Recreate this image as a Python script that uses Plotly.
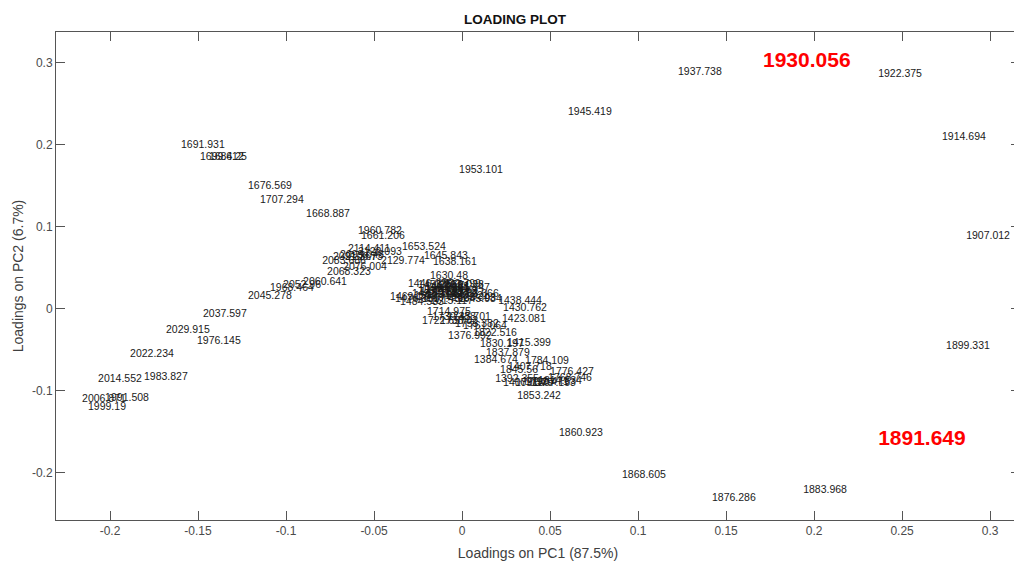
import plotly.graph_objects as go

# Wavenumbers (labels of each loading)
wavenumbers = [
    "1376.992", "1384.674", "1392.355", "1400.037", "1407.718", "1415.399", "1423.081",
    "1430.762", "1438.444", "1446.125", "1453.807", "1461.488", "1469.17", "1476.851",
    "1484.533", "1492.214", "1499.895", "1507.577", "1515.258", "1522.94", "1530.621",
    "1538.303", "1545.984", "1553.666", "1561.347", "1569.028", "1576.71", "1584.391",
    "1592.073", "1599.754", "1607.436", "1615.117", "1622.799", "1630.48", "1638.161",
    "1645.843", "1653.524", "1661.206", "1668.887", "1676.569", "1684.25", "1691.931",
    "1699.612", "1707.294", "1714.975", "1722.657", "1730.338", "1738.02", "1745.701",
    "1753.382", "1761.064", "1768.746", "1776.427", "1784.109", "1791.79", "1799.471",
    "1807.153", "1814.834", "1822.516", "1830.197", "1837.879", "1845.56", "1853.242",
    "1860.923", "1868.605", "1876.286", "1883.968", "1891.649", "1899.331", "1907.012",
    "1914.694", "1922.375", "1930.056", "1937.738", "1945.419", "1953.101", "1960.782",
    "1968.464", "1976.145", "1983.827", "1991.508", "1999.19", "2006.871", "2014.552",
    "2022.234", "2029.915", "2037.597", "2045.278", "2052.96", "2060.641", "2068.323",
    "2076.004", "2083.686", "2091.367", "2099.048", "2106.73", "2114.411", "2122.093",
    "2129.774",
]

# Loadings on PC1
pc1 = [
    -0.0080, 0.0068, 0.0188, 0.0233, 0.0261, 0.0256, 0.0227,
    0.0233, 0.0205, -0.0307, -0.0250, -0.0210, -0.0409, -0.0381,
    -0.0352, -0.0284, -0.0239, -0.0205, -0.0165, -0.0125, -0.0097,
    -0.0057, -0.0023, -0.0040, -0.0091, -0.0125, -0.0170, -0.0210,
    -0.0250, -0.0273, -0.0227, -0.0182, -0.0142, -0.0182, -0.0165,
    -0.0216, -0.0341, -0.0574, -0.0886, -0.1216, -0.1438, -0.1597,
    -0.1489, -0.1148, -0.0199, -0.0227, -0.0170, -0.0125, -0.0085,
    -0.0040, 0.0006, 0.0489, 0.0500, 0.0358, 0.0301, 0.0358,
    0.0398, 0.0432, 0.0063, 0.0102, 0.0136, 0.0216, 0.0313,
    0.0551, 0.0909, 0.1420, 0.1938, 0.2364, 0.2750, 0.2864,
    0.2727, 0.2364, 0.1710, 0.1227, 0.0602, -0.0017, -0.0591,
    -0.1091, -0.1506, -0.1807, -0.2028, -0.2125, -0.2159, -0.2068,
    -0.1886, -0.1682, -0.1472, -0.1216, -0.1017, -0.0903, -0.0767,
    -0.0676, -0.0795, -0.0733, -0.0693, -0.0665, -0.0648, -0.0591,
    -0.0460,
]

# Loadings on PC2
pc2 = [
    -0.0343, -0.0636, -0.0868, -0.0917, -0.0722, -0.0429, -0.0136,
    -0.0001, 0.0084, 0.0292, 0.0280, 0.0255, 0.0133, 0.0109,
    0.0072, 0.0170, 0.0194, 0.0170, 0.0206, 0.0182, 0.0145,
    0.0121, 0.0109, 0.0170, 0.0243, 0.0280, 0.0268, 0.0231,
    0.0206, 0.0145, 0.0109, 0.0084, 0.0292, 0.0390, 0.0561,
    0.0634, 0.0744, 0.0878, 0.1147, 0.1489, 0.1843, 0.1990,
    0.1843, 0.1318, -0.0050, -0.0160, -0.0111, -0.0160, -0.0111,
    -0.0197, -0.0221, -0.0856, -0.0783, -0.0649, -0.0917, -0.0905,
    -0.0917, -0.0893, -0.0307, -0.0441, -0.0551, -0.0759, -0.1076,
    -0.1528, -0.2041, -0.2322, -0.2224, -0.1601, -0.0463, 0.0878,
    0.2087, 0.2857, 0.3016, 0.2882, 0.2393, 0.1684, 0.0939,
    0.0243, -0.0404, -0.0844, -0.1100, -0.1210, -0.1113, -0.0868,
    -0.0562, -0.0269, -0.0073, 0.0145, 0.0280, 0.0316, 0.0439,
    0.0500, 0.0573, 0.0622, 0.0646, 0.0622, 0.0719, 0.0683,
    0.0573,
]

# Highlighted wavenumbers
highlighted = ["1930.056", "1891.649"]

x_ticks = [-0.2, -0.15, -0.1, -0.05, 0, 0.05, 0.1, 0.15, 0.2, 0.25, 0.3]
x_ticktext = ["-0.2", "-0.15", "-0.1", "-0.05", "0", "0.05", "0.1", "0.15", "0.2", "0.25", "0.3"]
y_ticks = [-0.2, -0.1, 0, 0.1, 0.2, 0.3]
y_ticktext = ["-0.2", "-0.1", "0", "0.1", "0.2", "0.3"]

FONT = "Liberation Sans, Arial, Helvetica, sans-serif"

# The page body has an 8px margin, so the figure is sized to fit the window.
FIG_W, FIG_H = 1014, 553

norm_idx = [i for i, w in enumerate(wavenumbers) if w not in highlighted]
hi_idx = [i for i, w in enumerate(wavenumbers) if w in highlighted]

fig = go.Figure()
fig.add_trace(go.Scatter(
    x=[pc1[i] for i in norm_idx],
    y=[pc2[i] for i in norm_idx],
    text=[wavenumbers[i] for i in norm_idx],
    mode="text",
    textposition="middle right",
    textfont=dict(family=FONT, size=10.5, color="#1a1a1a"),
    cliponaxis=False,
    hoverinfo="text",
    showlegend=False,
))
fig.add_trace(go.Scatter(
    x=[pc1[i] for i in hi_idx],
    y=[pc2[i] for i in hi_idx],
    text=[wavenumbers[i] for i in hi_idx],
    mode="text",
    textposition="middle right",
    textfont=dict(family=FONT, size=21, color="#ff0000", weight="bold"),
    cliponaxis=False,
    hoverinfo="text",
    showlegend=False,
))

axis_common = dict(
    showline=True, linecolor="#555555", linewidth=1, mirror="allticks",
    ticks="inside", ticklen=9, tickcolor="#555555", tickwidth=1,
    showgrid=False, zeroline=False, automargin=False,
    tickfont=dict(family=FONT, size=12, color="#4a4a4a"),
)

fig.update_layout(
    width=FIG_W, height=FIG_H, autosize=False,
    margin=dict(l=48, r=2, t=24, b=41, autoexpand=False),
    paper_bgcolor="white", plot_bgcolor="white",
    font=dict(family=FONT),
    title=dict(text="<b>LOADING PLOT</b>", x=507 / FIG_W, xanchor="center",
               y=1 - 11 / FIG_H, yanchor="middle", yref="container",
               font=dict(family=FONT, size=13.5, color="#111111")),
    xaxis=dict(range=[-0.2307, 0.3170], tickvals=x_ticks, ticktext=x_ticktext,
               title=dict(text="Loadings on PC1 (87.5%)", font=dict(family=FONT, size=14, color="#404040"), standoff=10),
               **axis_common),
    yaxis=dict(range=[-0.258, 0.3376], tickvals=y_ticks, ticktext=y_ticktext,
               title=dict(text="Loadings on PC2 (6.7%)", font=dict(family=FONT, size=14, color="#404040"), standoff=5),
               **axis_common),
)

fig.write_html("out.html")
